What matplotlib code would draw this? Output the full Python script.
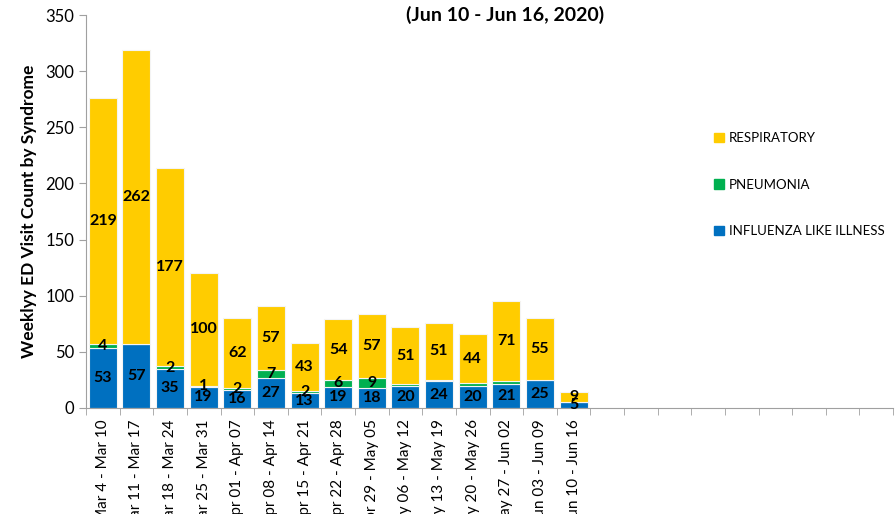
import numpy as np
import matplotlib
matplotlib.use("Agg")
import matplotlib.pyplot as plt
from matplotlib.patches import Patch

plt.rcParams['font.family'] = ['Lato', 'DejaVu Sans']

weeks = ["Mar 4 - Mar 10", "Mar 11 - Mar 17", "Mar 18 - Mar 24", "Mar 25 - Mar 31",
         "Apr 01 - Apr 07", "Apr 08 - Apr 14", "Apr 15 - Apr 21", "Apr 22 - Apr 28",
         "Apr 29 - May 05", "May 06 - May 12", "May 13 - May 19", "May 20 - May 26",
         "May 27 - Jun 02", "Jun 03 - Jun 09", "Jun 10 - Jun 16"]
n_slots = 24  # axis has room for more weeks than there is data

ili = [53, 57, 35, 19, 16, 27, 13, 19, 18, 20, 24, 20, 21, 25, 5]
pneumonia = [4, 0, 2, 1, 2, 7, 2, 6, 9, 1, 1, 2, 3, 0, 0]
respiratory = [219, 262, 177, 100, 62, 57, 43, 54, 57, 51, 51, 44, 71, 55, 9]
# which pneumonia values carry a label on the chart
pneu_shown = [True, False, True, True, True, True, True, True, True,
              False, False, False, False, False, False]

c_ili = "#0070C0"
c_pne = "#00B050"
c_res = "#FFCC00"

fig = plt.figure(figsize=(8.96, 5.14), dpi=100)
ax = fig.add_axes([86 / 896, 106 / 514, 807 / 896, 393 / 514])

x = np.arange(len(weeks))
ili = np.array(ili)
pneumonia = np.array(pneumonia)
respiratory = np.array(respiratory)
w = 0.83
ec = "#f4f4f4"
ax.bar(x, ili, w, color=c_ili, edgecolor=ec, linewidth=0.8)
ax.bar(x, pneumonia, w, bottom=ili, color=c_pne, edgecolor=ec, linewidth=0.8)
ax.bar(x, respiratory, w, bottom=ili + pneumonia, color=c_res, edgecolor=ec, linewidth=0.8)

lab = dict(ha="center", va="center", fontsize=11.5, fontweight="bold", color="black")
for i in range(len(weeks)):
    ax.text(x[i], ili[i] / 2, str(ili[i]), **lab)
    if pneu_shown[i]:
        ax.text(x[i], ili[i] + pneumonia[i] / 2, str(pneumonia[i]), **lab)
    ax.text(x[i], ili[i] + pneumonia[i] + respiratory[i] / 2, str(respiratory[i]), **lab)

ax.set_xlim(-0.5, n_slots - 0.5)
ax.set_ylim(0, 350)
ax.set_yticks(range(0, 351, 50))
ax.tick_params(axis="y", labelsize=12, length=5, color="#a0a0a0", direction="out")

ax.set_xticks(x)
ax.set_xticklabels(weeks, rotation=90, fontsize=11)
ax.set_xticks(np.arange(-0.5, n_slots, 1), minor=True)
ax.tick_params(axis="x", which="major", length=0, pad=8)
ax.tick_params(axis="x", which="minor", length=5, color="#a0a0a0", direction="out")

for s in ["top", "right"]:
    ax.spines[s].set_visible(False)
for s in ["left", "bottom"]:
    ax.spines[s].set_color("#a0a0a0")

ax.set_ylabel("Weeklyy ED Visit Count by Syndrome", fontsize=12.5, fontweight="bold", labelpad=6)

handles = [Patch(color=c_res, label="RESPIRATORY"),
           Patch(color=c_pne, label="PNEUMONIA"),
           Patch(color=c_ili, label="INFLUENZA LIKE ILLNESS")]
ax.legend(handles=handles, loc="upper left", bbox_to_anchor=(0.764, 0.732), frameon=False,
          fontsize=9.5, labelspacing=2.6, handlelength=0.7, handleheight=0.7,
          handletextpad=0.4)

fig.text(0.564, 0.971, "(Jun 10 - Jun 16, 2020)", ha="center", va="center",
         fontsize=14, fontweight="bold")

fig.savefig("out.png", dpi=100)
